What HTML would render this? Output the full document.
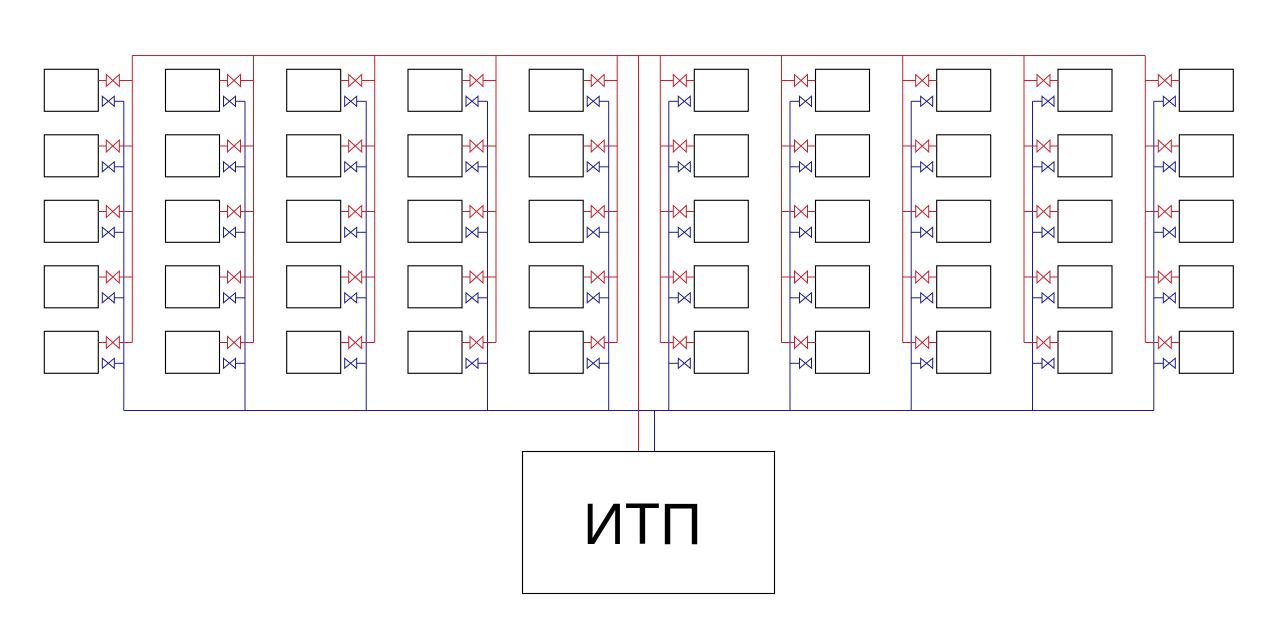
<!DOCTYPE html>
<html>
<head>
<meta charset="utf-8">
<style>
html,body{margin:0;padding:0;background:#fff;}
svg{display:block;}
</style>
</head>
<body>
<svg width="1280" height="635" viewBox="0 0 1280 635" xmlns="http://www.w3.org/2000/svg">
<defs>
<g id="row">
<rect x="0" y="0" width="54" height="42" fill="#fff" stroke="#000" stroke-width="1.1"/>
<path d="M54 11.2H62M75 11.2H88" stroke="#c8202c" stroke-width="1" fill="none"/>
<polygon points="62,5.2 75,17.2 75,5.2 62,17.2" fill="none" stroke="#c8202c" stroke-width="1"/>
<path d="M70 32H79.5" stroke="#1c1c96" stroke-width="1" fill="none"/>
<polygon points="58,27 70,37 70,27 58,37" fill="none" stroke="#1c1c96" stroke-width="1"/>
</g>
<g id="col">
<path d="M88 55.5V342.5" stroke="#c8202c" stroke-width="1" fill="none"/>
<path d="M79.5 101.3V410.5" stroke="#1c1c96" stroke-width="1" fill="none"/>
<use href="#row" y="69.3"/>
<use href="#row" y="134.8"/>
<use href="#row" y="200.3"/>
<use href="#row" y="265.8"/>
<use href="#row" y="331.3"/>
</g>
</defs>

<!-- main supply / return lines -->
<path d="M132.3 55.5H1145.3" stroke="#c8202c" stroke-width="1" fill="none"/>
<path d="M638.5 55.5V451.5" stroke="#c8202c" stroke-width="1" fill="none"/>
<path d="M123.8 410.5H1153.8" stroke="#1c1c96" stroke-width="1" fill="none"/>
<path d="M654.5 410.5V451.5" stroke="#1c1c96" stroke-width="1" fill="none"/>

<!-- left columns -->
<use href="#col" transform="translate(44.3,0)"/>
<use href="#col" transform="translate(165.5,0)"/>
<use href="#col" transform="translate(286.7,0)"/>
<use href="#col" transform="translate(408,0)"/>
<use href="#col" transform="translate(529.2,0)"/>

<!-- right columns (mirrored) -->
<use href="#col" transform="translate(748.3,0) scale(-1,1)"/>
<use href="#col" transform="translate(869.5,0) scale(-1,1)"/>
<use href="#col" transform="translate(990.7,0) scale(-1,1)"/>
<use href="#col" transform="translate(1112,0) scale(-1,1)"/>
<use href="#col" transform="translate(1233.3,0) scale(-1,1)"/>

<!-- ITP box -->
<rect x="522.5" y="451.5" width="252" height="142" fill="#fff" stroke="#000" stroke-width="1.1"/>
<text x="583" y="544" font-family="Liberation Sans, DejaVu Sans, sans-serif" font-size="58" fill="#000">ИТП</text>
</svg>
</body>
</html>
